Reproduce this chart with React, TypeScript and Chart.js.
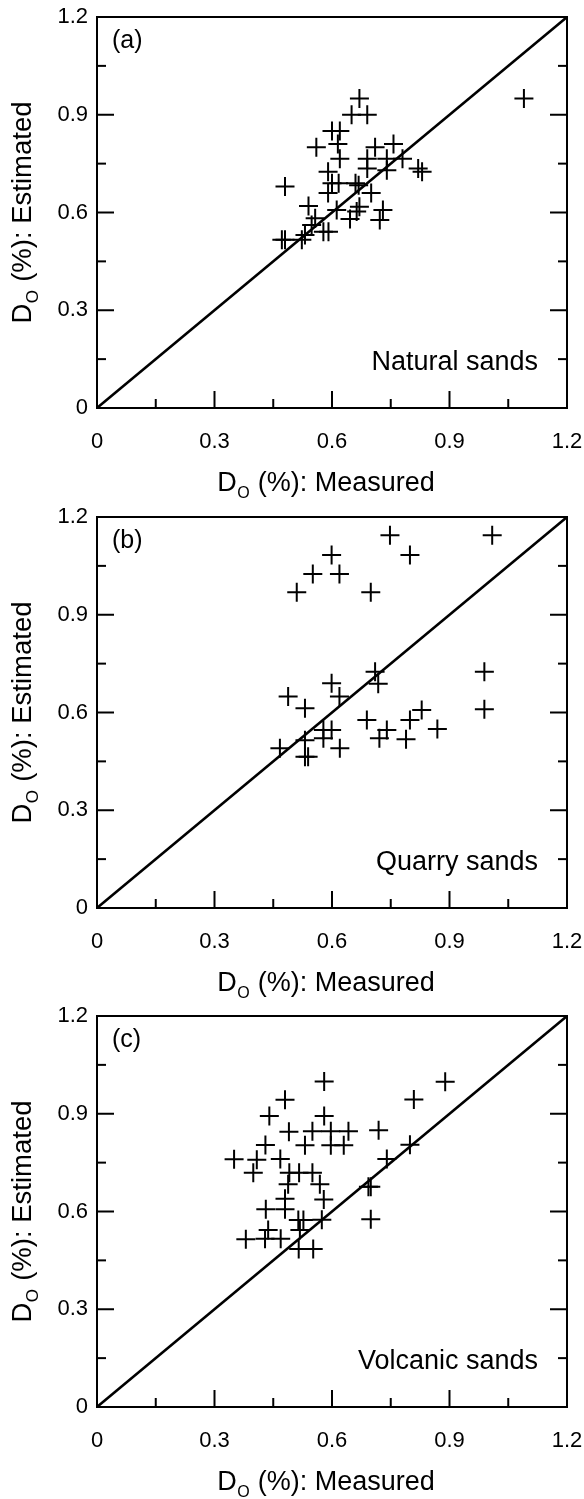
import { useEffect, useRef } from 'react';
import { Chart, registerables } from 'chart.js';

Chart.register(...registerables);

const FONT = '"Liberation Sans", Arial, Helvetica, sans-serif';

const AXIS_TICKS = [0, 0.3, 0.6, 0.9, 1.2];
const AXIS_TICK_LABELS = ['0', '0.3', '0.6', '0.9', '1.2'];
const MINOR_TICKS = [0.15, 0.45, 0.75, 1.05];
const LINE_1TO1 = [0, 1.2];

const X_TITLE = ['D', 'O', ' (%): Measured'];
const Y_TITLE = ['D', 'O', ' (%): Estimated'];
const PANEL_LABELS = ['(a)', '(b)', '(c)'];
const SAND_TYPES = ['Natural sands', 'Quarry sands', 'Volcanic sands'];

// (a) Natural sands
const naturalMeasured = [
  0.67, 1.09, 0.65, 0.69, 0.6, 0.62, 0.56, 0.615, 0.71, 0.757, 0.62, 0.69, 0.74, 0.78,
  0.69, 0.74, 0.82, 0.83, 0.59, 0.48, 0.6, 0.617, 0.66, 0.668, 0.59, 0.7, 0.54, 0.612,
  0.67, 0.663, 0.73, 0.646, 0.722, 0.557, 0.548, 0.578, 0.591, 0.531, 0.472, 0.48, 0.523,
];
const naturalEstimated = [
  0.95, 0.95, 0.9, 0.9, 0.85, 0.85, 0.8, 0.81, 0.8, 0.81, 0.765, 0.765, 0.765, 0.765,
  0.735, 0.73, 0.735, 0.725, 0.725, 0.68, 0.69, 0.69, 0.69, 0.684, 0.66, 0.66, 0.62, 0.608,
  0.618, 0.603, 0.608, 0.58, 0.577, 0.582, 0.562, 0.541, 0.541, 0.531, 0.516, 0.516, 0.516,
];

// (b) Quarry sands
const quarryMeasured = [
  0.748, 1.009, 0.599, 0.799, 0.551, 0.619, 0.51, 0.699, 0.71, 0.989, 0.599, 0.718, 0.488,
  0.619, 0.531, 0.829, 0.989, 0.689, 0.799, 0.578, 0.599, 0.74, 0.869, 0.531, 0.578, 0.721,
  0.789, 0.467, 0.62, 0.531, 0.539,
];
const quarryEstimated = [
  1.144, 1.144, 1.083, 1.083, 1.025, 1.025, 0.969, 0.969, 0.725, 0.725, 0.69, 0.688, 0.649,
  0.649, 0.613, 0.608, 0.61, 0.577, 0.577, 0.546, 0.546, 0.546, 0.549, 0.515, 0.521, 0.521,
  0.518, 0.49, 0.49, 0.464, 0.464,
];

// (c) Volcanic sands
const volcanicMeasured = [
  0.58, 0.889, 0.48, 0.809, 0.44, 0.58, 0.49, 0.55, 0.597, 0.642, 0.719, 0.43, 0.531, 0.597,
  0.63, 0.799, 0.35, 0.408, 0.468, 0.74, 0.399, 0.491, 0.516, 0.55, 0.569, 0.488, 0.693,
  0.699, 0.48, 0.579, 0.431, 0.48, 0.514, 0.527, 0.574, 0.699, 0.518, 0.437, 0.38, 0.429,
  0.469, 0.515, 0.552,
];
const volcanicEstimated = [
  0.999, 0.998, 0.943, 0.944, 0.893, 0.893, 0.845, 0.846, 0.846, 0.846, 0.849, 0.804, 0.803,
  0.803, 0.803, 0.805, 0.76, 0.759, 0.761, 0.761, 0.719, 0.719, 0.719, 0.719, 0.684, 0.684,
  0.676, 0.676, 0.639, 0.637, 0.607, 0.607, 0.574, 0.574, 0.575, 0.576, 0.543, 0.543, 0.515,
  0.516, 0.516, 0.485, 0.485,
];

const PANELS = [
  { measured: naturalMeasured, estimated: naturalEstimated },
  { measured: quarryMeasured, estimated: quarryEstimated },
  { measured: volcanicMeasured, estimated: volcanicEstimated },
];

function drawSubTitle(
  ctx: CanvasRenderingContext2D,
  parts: string[],
  x: number,
  y: number,
  rotate: boolean,
  size: number,
) {
  ctx.save();
  ctx.translate(x, y);
  if (rotate) ctx.rotate(-Math.PI / 2);
  const big = `${size}px ${FONT}`;
  const small = `${Math.round(size * 0.61)}px ${FONT}`;
  ctx.font = big;
  const w0 = ctx.measureText(parts[0]).width;
  const w2 = ctx.measureText(parts[2]).width;
  ctx.font = small;
  const w1 = ctx.measureText(parts[1]).width + 1;
  let cx = -(w0 + w1 + w2) / 2;
  ctx.fillStyle = '#000';
  ctx.textAlign = 'left';
  ctx.textBaseline = 'alphabetic';
  ctx.font = big;
  ctx.fillText(parts[0], cx, 0);
  cx += w0;
  ctx.font = small;
  ctx.fillText(parts[1], cx + 0.5, size * 0.26);
  cx += w1;
  ctx.font = big;
  ctx.fillText(parts[2], cx, 0);
  ctx.restore();
}

const decorPlugin = {
  id: 'decor',
  afterDraw(chart: any, _args: any, opts: any) {
    const { ctx, chartArea } = chart;
    const { left, right, top, bottom } = chartArea;
    const xs = chart.scales.x;
    const ys = chart.scales.y;
    ctx.save();
    ctx.strokeStyle = '#000';
    ctx.lineWidth = 2;
    ctx.lineCap = 'butt';
    ctx.strokeRect(left, top, right - left, bottom - top);
    const line = (x1: number, y1: number, x2: number, y2: number) => {
      ctx.beginPath();
      ctx.moveTo(x1, y1);
      ctx.lineTo(x2, y2);
      ctx.stroke();
    };
    const drawTicks = (vals: number[], len: number) => {
      for (const v of vals) {
        const px = xs.getPixelForValue(v);
        line(px, bottom, px, bottom - len);
        const py = ys.getPixelForValue(v);
        line(left, py, left + len, py);
        line(right, py, right - len, py);
      }
    };
    drawTicks(AXIS_TICKS, 17);
    drawTicks(MINOR_TICKS, 9);

    // panel label and sand type
    ctx.fillStyle = '#000';
    ctx.textBaseline = 'alphabetic';
    ctx.textAlign = 'left';
    ctx.font = `25px ${FONT}`;
    ctx.fillText(opts.label, left + 15, top + 31);
    ctx.textAlign = 'right';
    ctx.font = `27px ${FONT}`;
    ctx.fillText(opts.name, right - 29, bottom - 38);

    // axis titles
    drawSubTitle(ctx, X_TITLE, (left + right) / 2 - 6, bottom + 83, false, 27);
    drawSubTitle(ctx, Y_TITLE, 31, (top + bottom) / 2, true, 27.5);
    ctx.restore();
  },
};

function Panel({ index, top }: { index: number; top: number }) {
  const ref = useRef<HTMLCanvasElement | null>(null);
  useEffect(() => {
    const canvas = ref.current;
    if (!canvas) return;
    const p = PANELS[index];
    const points = p.measured.map((m, i) => ({ x: m, y: p.estimated[i] }));
    const diag = LINE_1TO1.map((v) => ({ x: v, y: v }));
    const tickFont = { family: FONT, size: 22 };
    const setTicks = (scale: any) => {
      scale.ticks = AXIS_TICKS.map((v) => ({ value: v }));
    };
    const labelFor = (value: any) => {
      const i = AXIS_TICKS.findIndex((t) => Math.abs(t - Number(value)) < 1e-9);
      return i >= 0 ? AXIS_TICK_LABELS[i] : '';
    };
    const zeroPad = (s: any) => {
      s.paddingLeft = 0;
      s.paddingRight = 0;
      s.paddingTop = 0;
      s.paddingBottom = 0;
    };
    const chart = new Chart(canvas, {
      type: 'scatter',
      data: {
        datasets: [
          {
            type: 'line',
            data: diag,
            borderColor: '#000',
            borderWidth: 2.5,
            pointRadius: 0,
            fill: false,
            tension: 0,
          } as any,
          {
            data: points,
            pointStyle: 'cross',
            pointRadius: 9.5,
            pointHoverRadius: 9.5,
            borderColor: '#000',
            backgroundColor: '#000',
            borderWidth: 2,
            showLine: false,
          } as any,
        ],
      },
      options: {
        responsive: false,
        animation: false,
        devicePixelRatio: 1,
        events: [],
        layout: { padding: { top: 17, right: 17, left: 0, bottom: 0 } },
        plugins: {
          legend: { display: false },
          tooltip: { enabled: false },
          decor: { label: PANEL_LABELS[index], name: SAND_TYPES[index] },
        } as any,
        scales: {
          x: {
            type: 'linear',
            min: 0,
            max: 1.2,
            afterBuildTicks: setTicks,
            afterFit: (s: any) => {
              s.height = 92;
              zeroPad(s);
            },
            ticks: { font: tickFont, color: '#000', padding: 21, maxRotation: 0, callback: labelFor },
            grid: { display: false, drawTicks: false },
            border: { display: false },
          },
          y: {
            type: 'linear',
            min: 0,
            max: 1.2,
            afterBuildTicks: setTicks,
            afterFit: (s: any) => {
              s.width = 97;
              zeroPad(s);
            },
            ticks: { font: tickFont, color: '#000', padding: 9, callback: labelFor },
            grid: { display: false, drawTicks: false },
            border: { display: false },
          },
        },
      } as any,
      plugins: [decorPlugin],
    });
    return () => chart.destroy();
  }, [index]);
  return (
    <canvas
      ref={ref}
      width={584}
      height={500}
      style={{ position: 'absolute', left: 0, top, display: 'block' }}
    />
  );
}

export default function App() {
  return (
    <div style={{ position: 'absolute', left: 0, top: 0, width: 584, height: 1499, background: '#fff' }}>
      <Panel index={0} top={0} />
      <Panel index={1} top={500} />
      <Panel index={2} top={999} />
    </div>
  );
}
